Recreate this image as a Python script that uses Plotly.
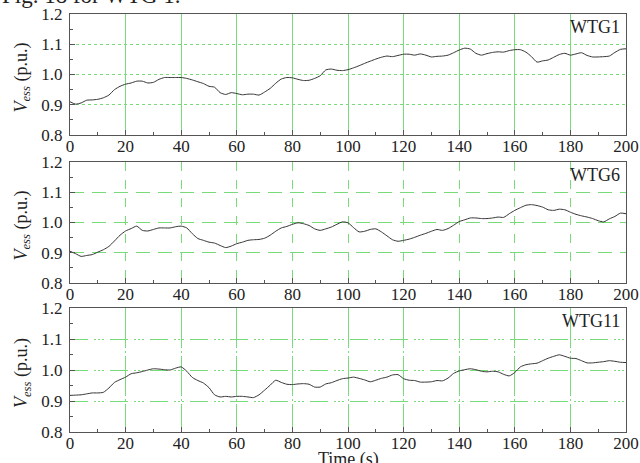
import plotly.graph_objects as go

time_s = [0, 2, 4, 6, 8, 10, 12, 14, 16, 18, 20, 22, 24, 26, 28, 30, 32, 34, 36, 38,
          40, 42, 44, 46, 48, 50, 52, 54, 56, 58, 60, 62, 64, 66, 68, 70, 72, 74, 76, 78,
          80, 82, 84, 86, 88, 90, 92, 94, 96, 98, 100, 102, 104, 106, 108, 110, 112, 114, 116, 118,
          120, 122, 124, 126, 128, 130, 132, 134, 136, 138, 140, 142, 144, 146, 148, 150, 152, 154, 156, 158,
          160, 162, 164, 166, 168, 170, 172, 174, 176, 178, 180, 182, 184, 186, 188, 190, 192, 194, 196, 198, 200]

wtg1 = [0.910, 0.902, 0.906, 0.915, 0.916, 0.918, 0.923, 0.932, 0.950, 0.961,
        0.968, 0.972, 0.978, 0.978, 0.972, 0.974, 0.984, 0.990, 0.990, 0.990,
        0.990, 0.987, 0.982, 0.976, 0.970, 0.961, 0.958, 0.940, 0.934, 0.940,
        0.937, 0.933, 0.935, 0.935, 0.932, 0.942, 0.954, 0.971, 0.985, 0.990,
        0.989, 0.984, 0.980, 0.981, 0.987, 0.996, 1.015, 1.018, 1.014, 1.013,
        1.016, 1.022, 1.029, 1.037, 1.044, 1.051, 1.057, 1.061, 1.059, 1.063,
        1.067, 1.067, 1.064, 1.068, 1.064, 1.058, 1.060, 1.061, 1.064, 1.072,
        1.081, 1.087, 1.084, 1.070, 1.064, 1.069, 1.073, 1.075, 1.074, 1.079,
        1.082, 1.082, 1.074, 1.059, 1.041, 1.045, 1.048, 1.057, 1.066, 1.070,
        1.064, 1.068, 1.072, 1.063, 1.058, 1.058, 1.059, 1.061, 1.073, 1.083, 1.085]

wtg6 = [0.905, 0.897, 0.888, 0.891, 0.894, 0.902, 0.910, 0.921, 0.939, 0.958,
        0.972, 0.980, 0.988, 0.974, 0.972, 0.977, 0.982, 0.982, 0.982, 0.986,
        0.988, 0.982, 0.963, 0.947, 0.941, 0.935, 0.932, 0.924, 0.917, 0.922,
        0.930, 0.935, 0.941, 0.943, 0.944, 0.948, 0.958, 0.971, 0.982, 0.987,
        0.994, 0.999, 0.996, 0.990, 0.979, 0.974, 0.979, 0.985, 0.994, 1.002,
        0.999, 0.983, 0.969, 0.971, 0.977, 0.979, 0.969, 0.956, 0.943, 0.938,
        0.941, 0.945, 0.951, 0.958, 0.964, 0.971, 0.977, 0.974, 0.980, 0.991,
        1.003, 1.009, 1.015, 1.015, 1.013, 1.013, 1.015, 1.018, 1.017, 1.029,
        1.040, 1.049, 1.057, 1.059, 1.056, 1.051, 1.042, 1.040, 1.044, 1.042,
        1.034, 1.027, 1.022, 1.018, 1.013, 1.006, 1.002, 1.012, 1.020, 1.031, 1.029]

wtg11 = [0.918, 0.919, 0.920, 0.923, 0.926, 0.926, 0.928, 0.942, 0.960, 0.969,
         0.977, 0.988, 0.991, 0.995, 1.000, 1.004, 1.003, 1.001, 1.000, 1.006,
         1.010, 0.996, 0.976, 0.966, 0.958, 0.943, 0.920, 0.913, 0.915, 0.913,
         0.915, 0.915, 0.913, 0.911, 0.920, 0.935, 0.951, 0.967, 0.960, 0.954,
         0.953, 0.955, 0.956, 0.954, 0.945, 0.945, 0.955, 0.959, 0.966, 0.972,
         0.974, 0.977, 0.973, 0.968, 0.962, 0.967, 0.973, 0.977, 0.984, 0.985,
         0.972, 0.967, 0.966, 0.961, 0.961, 0.962, 0.966, 0.965, 0.974, 0.989,
         0.997, 1.001, 1.004, 1.001, 0.996, 0.994, 0.996, 0.994, 0.986, 0.981,
         0.992, 1.010, 1.017, 1.020, 1.022, 1.030, 1.038, 1.044, 1.049, 1.044,
         1.038, 1.037, 1.030, 1.023, 1.023, 1.025, 1.027, 1.030, 1.028, 1.025, 1.024]

panel_labels = ["WTG1", "WTG6", "WTG11"]
x_ticks = [0, 20, 40, 60, 80, 100, 120, 140, 160, 180, 200]
y_ticks = [0.8, 0.9, 1.0, 1.1, 1.2]
y_tick_text = ["0.8", "0.9", "1.0", "1.1", "1.2"]

W, H = 640, 463
FONT = "Liberation Serif"
GRID = "rgb(120,218,120)"
AXC = "#555555"

# pixel boxes (left, right, top, bottom)
boxes = [(70, 626, 14, 135), (70, 626, 162, 283), (70, 626, 308, 432)]
grid_x = ["solid", "dash", "40px,3px,2px,3px"]
grid_y = ["dot", "14px,8px", "18px,6px,2px,2px,2px,2px,2px,6px"]

fig = go.Figure()
series = [wtg1, wtg6, wtg11]
for i, ys in enumerate(series):
    sfx = "" if i == 0 else str(i + 1)
    fig.add_trace(go.Scatter(x=time_s, y=ys, mode="lines",
                             line=dict(color="#333333", width=1, shape="spline", smoothing=0.6),
                             xaxis="x" + sfx, yaxis="y" + sfx, showlegend=False))
    l, r, t, b = boxes[i]
    xd = [l / W, r / W]
    yd = [1 - b / H, 1 - t / H]
    fig.update_layout(**{
        "xaxis" + sfx: dict(domain=xd, range=[0, 200], anchor="y" + sfx, automargin=False,
                            tickvals=x_ticks, ticks="inside", ticklen=5, tickcolor=AXC,
                            showline=True, linecolor=AXC, linewidth=1.2, mirror=True,
                            showgrid=True, gridcolor=GRID, gridwidth=1, griddash=grid_x[i],
                            zeroline=False, ticklabelstandoff=-5,
                            minor=dict(ticks="inside", ticklen=3, dtick=10, tick0=0,
                                       tickcolor=AXC, showgrid=False),
                            tickfont=dict(family=FONT, size=17, color="#222")),
        "yaxis" + sfx: dict(domain=yd, range=[0.8, 1.2], anchor="x" + sfx, automargin=False,
                            tickvals=y_ticks, ticktext=y_tick_text,
                            ticks="inside", ticklen=5, tickcolor=AXC,
                            showline=True, linecolor=AXC, linewidth=1.2, mirror=True,
                            showgrid=True, gridcolor=GRID, gridwidth=1, griddash=grid_y[i],
                            zeroline=False, ticklabelstandoff=3,
                            minor=dict(ticks="inside", ticklen=3, dtick=0.05, tick0=0.8,
                                       tickcolor=AXC, showgrid=False),
                            tickfont=dict(family=FONT, size=17, color="#222")),
    })
    fig.add_annotation(x=(r - 4) / W, y=1 - (t + 13) / H, xref="paper", yref="paper",
                       text=panel_labels[i], showarrow=False, xanchor="right", yanchor="middle",
                       font=dict(family=FONT, size=18, color="#222"))
    fig.add_annotation(x=22 / W, y=1 - ((t + b) / 2 + 3) / H, xref="paper", yref="paper",
                       text="<i>V</i><sub><i>ess</i></sub> (p.u.)", textangle=-90,
                       showarrow=False, xanchor="center", yanchor="middle",
                       font=dict(family=FONT, size=18, color="#222"))

fig.add_annotation(x=348 / W, y=1 - 459 / H, xref="paper", yref="paper",
                   text="Time (s)", showarrow=False, xanchor="center", yanchor="middle",
                   font=dict(family=FONT, size=18, color="#222"))
fig.add_annotation(x=0, y=1 - 10 / H, xref="paper", yref="paper",
                   text="Fig. 18 for WTG 1.", showarrow=False, xanchor="left", yanchor="bottom",
                   font=dict(family=FONT, size=23, color="#222"))

fig.update_layout(template="none", width=W, height=H, margin=dict(l=0, r=0, t=0, b=0, autoexpand=False),
                  paper_bgcolor="white", plot_bgcolor="white")
fig.write_html("out.html")
